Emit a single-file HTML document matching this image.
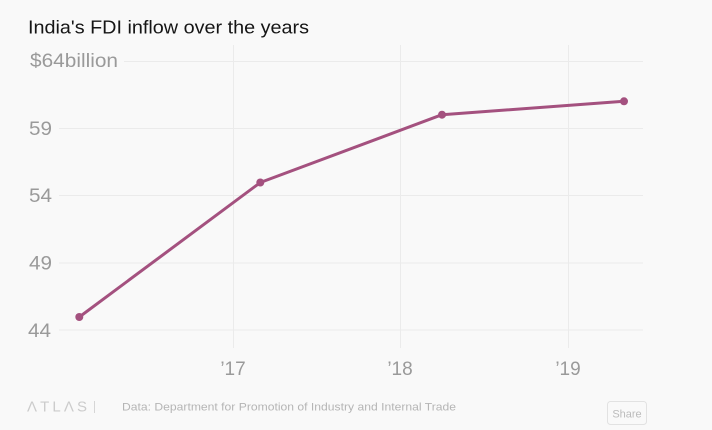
<!DOCTYPE html>
<html>
<head>
<meta charset="utf-8">
<style>
html,body{margin:0;padding:0;background:#f9f9f9;}
svg{display:block;}
text{font-family:"Liberation Sans",sans-serif;}
</style>
</head>
<body>
<svg width="712" height="430" viewBox="0 0 712 430" xmlns="http://www.w3.org/2000/svg">
<rect x="0" y="0" width="712" height="430" fill="#f9f9f9"/>
<text x="28" y="33.3" font-size="18" fill="#151515" textLength="281" lengthAdjust="spacingAndGlyphs">India's FDI inflow over the years</text>

<g stroke="#ebebeb" stroke-width="1">
<line x1="233.5" y1="45" x2="233.5" y2="348"/>
<line x1="400.5" y1="45" x2="400.5" y2="348"/>
<line x1="568.5" y1="45" x2="568.5" y2="348"/>
<line x1="124" y1="61.5" x2="643" y2="61.5"/>
<line x1="59" y1="128.5" x2="643" y2="128.5"/>
<line x1="59" y1="195.5" x2="643" y2="195.5"/>
<line x1="59" y1="263" x2="643" y2="263"/>
<line x1="59" y1="330" x2="643" y2="330"/>
</g>

<g font-size="19" fill="#9a9a9a">
<text x="30" y="67" textLength="88" lengthAdjust="spacingAndGlyphs">$64billion</text>
<text x="29" y="135" textLength="23" lengthAdjust="spacingAndGlyphs">59</text>
<text x="29" y="202" textLength="23" lengthAdjust="spacingAndGlyphs">54</text>
<text x="29" y="269.5" textLength="23" lengthAdjust="spacingAndGlyphs">49</text>
<text x="28" y="337" textLength="23" lengthAdjust="spacingAndGlyphs">44</text>
</g>

<g font-size="19" fill="#9a9a9a" text-anchor="middle">
<text x="233" y="375">’17</text>
<text x="400" y="375">’18</text>
<text x="568" y="375">’19</text>
</g>

<polyline points="79.3,317 260.3,182.5 442,114.7 624,101.3" fill="none" stroke="#a4517f" stroke-width="3" stroke-linejoin="round" stroke-linecap="round"/>
<g fill="#a4517f">
<circle cx="79.3" cy="317" r="4"/>
<circle cx="260.3" cy="182.5" r="4"/>
<circle cx="442" cy="114.7" r="4"/>
<circle cx="624" cy="101.3" r="4"/>
</g>

<text x="27" y="411.5" font-size="15" fill="#cccccc" textLength="60" lengthAdjust="spacing">ΛTLΛS</text>
<line x1="94.5" y1="401" x2="94.5" y2="413" stroke="#d6d6d6" stroke-width="1"/>
<text x="122" y="410.7" font-size="11" fill="#b5b5b5" textLength="334" lengthAdjust="spacingAndGlyphs">Data:  Department for Promotion of Industry and Internal Trade</text>

<rect x="607.5" y="401.5" width="39" height="23" rx="3" ry="3" fill="#f9f9f9" stroke="#e2e2e2" stroke-width="1"/>
<text x="627" y="417.5" font-size="11" fill="#bbbbbb" text-anchor="middle">Share</text>
</svg>
</body>
</html>
